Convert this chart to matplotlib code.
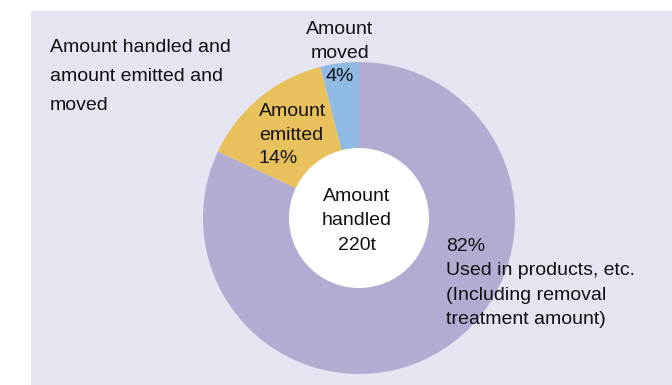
import matplotlib
matplotlib.use("Agg")
import matplotlib.pyplot as plt
from matplotlib.patches import Rectangle, Circle

# Breakdown of the amount handled (percent of total)
categories = ["Amount moved", "Amount emitted", "Used in products, etc."]
shares = [4, 14, 82]
total_handled = 220  # tonnes
colors = ["#8fbae4", "#e8c15d", "#b2acd2"]
background = "#e5e5f2"

W, H = 672, 385
fig = plt.figure(figsize=(W / 100, H / 100), dpi=100, facecolor="white")
ax = fig.add_axes([0, 0, 1, 1])
ax.set_axis_off()

# Pixel-based coordinate system (y measured from the bottom)
def py(y_from_top):
    return H - y_from_top

ax.add_patch(Rectangle((31, 0), W - 31, H - 11, facecolor=background,
                       edgecolor="none", zorder=0))

cx, cy, r_out, r_in = 359, py(218), 156, 70
ax.pie(shares, colors=colors, startangle=90, counterclock=True,
       radius=r_out, center=(cx, cy), frame=True,
       wedgeprops=dict(linewidth=0, antialiased=True))
ax.add_patch(Circle((cx, cy), r_in, facecolor="white", edgecolor="none",
                    zorder=5))

ax.set_xlim(0, W)
ax.set_ylim(0, H)
ax.set_aspect("auto")
ax.set_axis_off()

font = dict(family=["Liberation Sans", "DejaVu Sans"], color="#111111",
            fontsize=14)

ax.text(50, py(39), "Amount handled and\namount emitted and\nmoved",
        ha="left", va="top", linespacing=1.93, zorder=6, **font)

ax.text(340, py(21), f"Amount\nmoved\n{shares[0]}%",
        ha="center", va="top", multialignment="center",
        linespacing=1.5, zorder=6, **font)

ax.text(259, py(103), f"Amount\nemitted\n{shares[1]}%",
        ha="left", va="top", linespacing=1.5, zorder=6, **font)

ax.text(357, py(188), f"Amount\nhandled\n{total_handled}t",
        ha="center", va="top", multialignment="center",
        linespacing=1.56, zorder=6, **font)

ax.text(446, py(238),
        f"{shares[2]}%\n{categories[2]}\n(Including removal\ntreatment amount)",
        ha="left", va="top", linespacing=1.56, zorder=6, **font)

fig.savefig("out.png", dpi=100, facecolor="white")
